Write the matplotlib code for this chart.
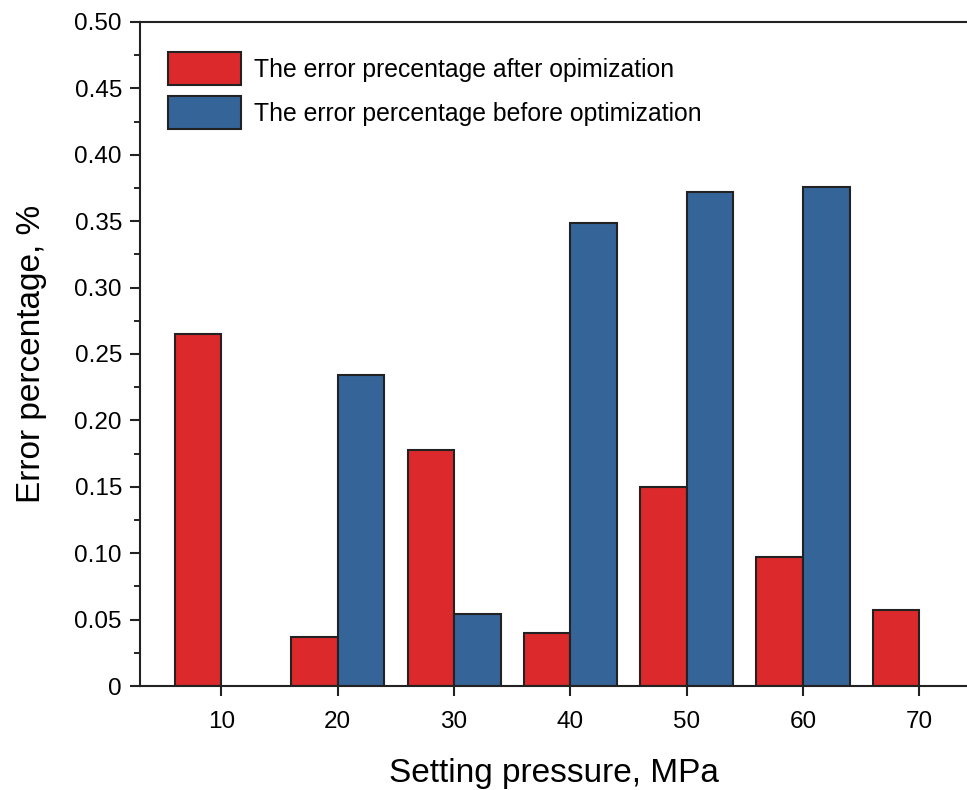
import numpy as np
import matplotlib.pyplot as plt
from matplotlib.ticker import MultipleLocator, FuncFormatter

plt.rcParams['font.family'] = ['Liberation Sans', 'DejaVu Sans']

pressure = [10, 20, 30, 40, 50, 60, 70]
err_after = [0.265, 0.037, 0.178, 0.040, 0.150, 0.097, 0.057]
err_before = [0.0, 0.234, 0.054, 0.349, 0.372, 0.376, 0.0]

red = '#DC2A2C'
blue = '#356499'
width = 4

fig = plt.figure(figsize=(9.67, 7.9), dpi=100)
ax = fig.add_axes([0.1448, 0.1316, 0.8552, 0.8406])

x = np.array(pressure)
ax.bar(x - width / 2, err_after, width, color=red, edgecolor='#222222',
       linewidth=1.5, label='The error precentage after opimization')
before = np.array(err_before)
mask = before > 0
ax.bar((x + width / 2)[mask], before[mask], width, color=blue, edgecolor='#222222',
       linewidth=1.5, label='The error percentage before optimization')

ax.set_xlim(3, 74.1)
ax.set_ylim(0, 0.5)
ax.set_xticks(pressure)
ax.yaxis.set_major_locator(MultipleLocator(0.05))
ax.yaxis.set_minor_locator(MultipleLocator(0.025))
ax.yaxis.set_major_formatter(FuncFormatter(lambda v, p: '0' if abs(v) < 1e-9 else f'{v:.2f}'))

for s in ['left', 'bottom', 'top']:
    ax.spines[s].set_linewidth(1.5)
    ax.spines[s].set_color('#222222')
ax.spines['right'].set_visible(False)

ax.tick_params(axis='both', which='major', direction='out', length=7, width=1.5,
               labelsize=17.5, colors='#222222', labelcolor='black')
ax.tick_params(axis='y', which='minor', direction='out', length=4, width=1.2)
ax.tick_params(axis='x', pad=11)
ax.tick_params(axis='y', pad=6)

ax.set_xlabel('Setting pressure, MPa', fontsize=24, labelpad=18)
ax.set_ylabel('Error percentage, %', fontsize=24, labelpad=20)

leg = ax.legend(loc='upper left', bbox_to_anchor=(0.0067, 0.988), frameon=False,
                fontsize=17.8, handlelength=2.95, handleheight=1.68, handletextpad=0.52,
                labelspacing=0.45)

fig.savefig('out.png', dpi=100)
